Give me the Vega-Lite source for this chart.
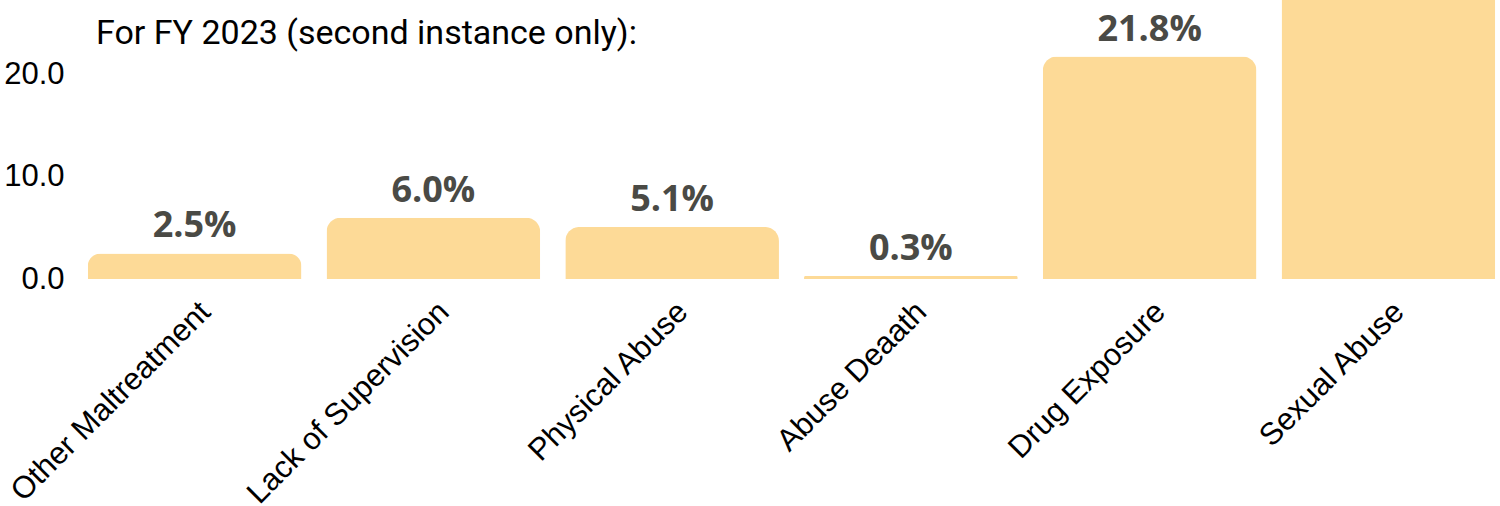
{
  "$schema": "https://vega.github.io/schema/vega-lite/v6.json",
  "autosize": "none",
  "width": 1417,
  "height": 279,
  "padding": {"left": 83, "top": 0, "right": 0, "bottom": 227},
  "background": "white",
  "title": {
    "text": "For FY 2023 (second instance only):",
    "anchor": "start",
    "frame": "group",
    "orient": "top",
    "offset": -187,
    "baseline": "alphabetic",
    "dx": 13,
    "font": "Roboto",
    "fontSize": 34,
    "fontWeight": "normal",
    "color": "#000000"
  },
  "data": {
    "values": [
      {"category": "Other Maltreatment", "value": 2.5, "label": "2.5%"},
      {"category": "Lack of Supervision", "value": 6.0, "label": "6.0%"},
      {"category": "Physical Abuse", "value": 5.1, "label": "5.1%"},
      {"category": "Abuse Deaath", "value": 0.3, "label": "0.3%"},
      {"category": "Drug Exposure", "value": 21.8, "label": "21.8%"},
      {"category": "Sexual Abuse", "value": 38.0, "label": "38.0%"}
    ]
  },
  "encoding": {
    "x": {
      "field": "category",
      "type": "nominal",
      "sort": null,
      "scale": {"paddingInner": 0.105, "paddingOuter": 0.02},
      "axis": {
        "title": null,
        "domain": false,
        "ticks": false,
        "labelAngle": -45,
        "labelAlign": "right",
        "labelBaseline": "middle",
        "labelFont": "Liberation Sans",
        "labelFontSize": 31,
        "labelColor": "#000000",
        "labelPadding": 28,
        "labelOffset": 11,
        "labelLimit": 500
      }
    },
    "y": {
      "field": "value",
      "type": "quantitative",
      "scale": {"domain": [0, 27.35], "nice": false},
      "axis": {
        "title": null,
        "domain": false,
        "ticks": false,
        "grid": false,
        "values": [0, 10, 20],
        "format": ".1f",
        "labelFont": "Liberation Sans",
        "labelFontSize": 31,
        "labelColor": "#000000",
        "labelPadding": 19
      }
    }
  },
  "layer": [
    {
      "mark": {"type": "bar", "color": "#FDDA97", "cornerRadiusTopLeft": 14, "cornerRadiusTopRight": 14}
    },
    {
      "transform": [{"filter": "datum.value < 27"}],
      "mark": {"type": "text", "baseline": "alphabetic", "dy": -16, "font": "Open Sans", "fontWeight": "bold", "fontSize": 36, "color": "#4a4a45"},
      "encoding": {
        "text": {"field": "label", "type": "nominal"}
      }
    }
  ],
  "config": {"view": {"stroke": null}}
}
